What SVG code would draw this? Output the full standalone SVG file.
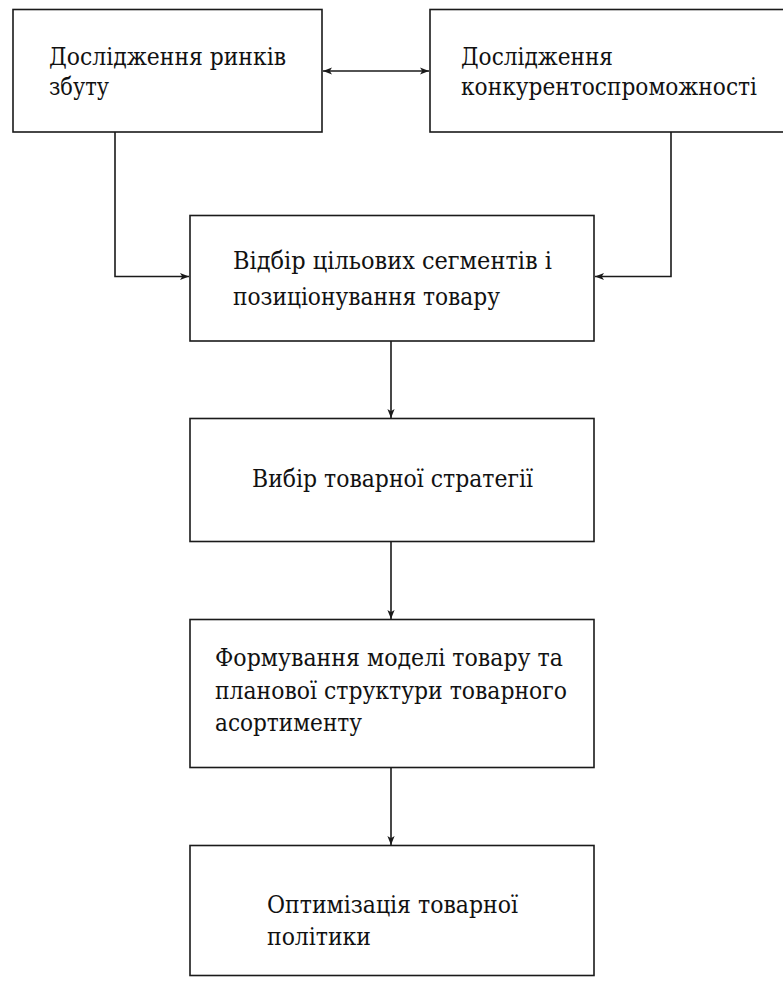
<svg xmlns="http://www.w3.org/2000/svg" width="783" height="986" viewBox="0 0 783 986">
<style>
.box{fill:#fff;stroke:#1a1a1a;stroke-width:1.6}
.t{font-family:"DejaVu Serif Condensed","DejaVu Serif","Liberation Serif",serif;font-stretch:condensed;font-size:24px;fill:#111}
.c{fill:none;stroke:#1a1a1a;stroke-width:1.6}
</style>
<defs>
<marker id="ah" viewBox="0 0 10 10" refX="10" refY="5" markerWidth="9" markerHeight="9" markerUnits="userSpaceOnUse" orient="auto-start-reverse">
<path d="M0,1 L10,5 L0,9 L2.5,5 Z" fill="#1a1a1a"/>
</marker>
</defs>
<rect width="783" height="986" fill="#fff"/>
<g id="n1"><rect class="box" x="13" y="9.5" width="309" height="122.5"/>
<text class="t" x="49" y="65" textLength="237" lengthAdjust="spacingAndGlyphs">Дослідження ринків</text>
<text class="t" x="49" y="95" textLength="60" lengthAdjust="spacingAndGlyphs">збуту</text></g>
<g id="n2"><rect class="box" x="430" y="9.5" width="360" height="122.5"/>
<text class="t" x="461" y="65" textLength="152" lengthAdjust="spacingAndGlyphs">Дослідження</text>
<text class="t" x="461" y="95" textLength="296" lengthAdjust="spacingAndGlyphs">конкурентоспроможності</text></g>
<g id="n3"><rect class="box" x="190" y="215.5" width="404" height="125.5"/>
<text class="t" x="233" y="269" textLength="319" lengthAdjust="spacingAndGlyphs">Відбір цільових сегментів і</text>
<text class="t" x="233" y="305" textLength="267" lengthAdjust="spacingAndGlyphs">позиціонування товару</text></g>
<g id="n4"><rect class="box" x="190" y="418.5" width="404" height="123"/>
<text class="t" x="252" y="487" textLength="281" lengthAdjust="spacingAndGlyphs">Вибір товарної стратегії</text></g>
<g id="n5"><rect class="box" x="190" y="619.5" width="404" height="148"/>
<text class="t" x="215" y="666" textLength="348" lengthAdjust="spacingAndGlyphs">Формування моделі товару та</text>
<text class="t" x="215" y="699" textLength="352" lengthAdjust="spacingAndGlyphs">планової структури товарного</text>
<text class="t" x="215" y="731" textLength="147" lengthAdjust="spacingAndGlyphs">асортименту</text></g>
<g id="n6"><rect class="box" x="190" y="845.5" width="404" height="130"/>
<text class="t" x="267" y="913" textLength="251" lengthAdjust="spacingAndGlyphs">Оптимізація товарної</text>
<text class="t" x="267" y="945" textLength="104" lengthAdjust="spacingAndGlyphs">політики</text></g>
<g id="connectors">
<line class="c" x1="323" y1="71" x2="429" y2="71" marker-start="url(#ah)" marker-end="url(#ah)"/>
<polyline class="c" points="115,132 115,276.5 189,276.5" marker-end="url(#ah)"/>
<polyline class="c" points="671,132 671,276.5 595,276.5" marker-end="url(#ah)"/>
<line class="c" x1="391" y1="341" x2="391" y2="418" marker-end="url(#ah)"/>
<line class="c" x1="391" y1="541.5" x2="391" y2="619" marker-end="url(#ah)"/>
<line class="c" x1="391" y1="767.5" x2="391" y2="845" marker-end="url(#ah)"/>
</g>
</svg>
